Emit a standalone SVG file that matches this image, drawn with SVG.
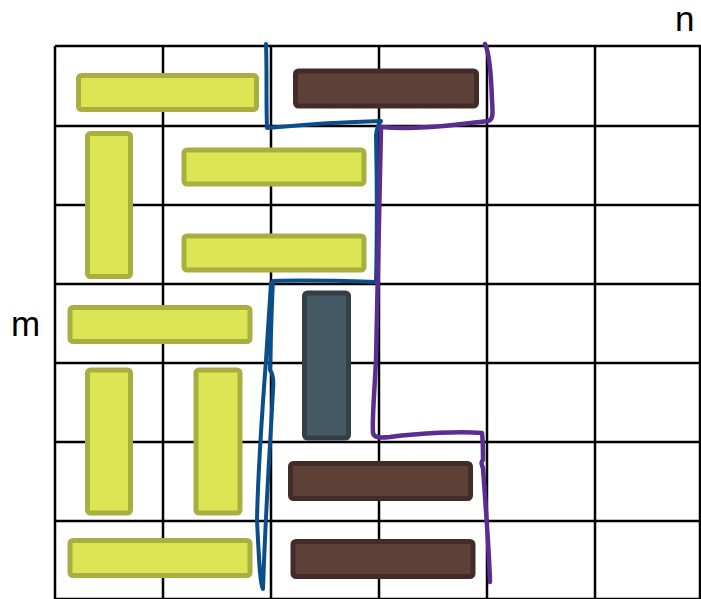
<svg xmlns="http://www.w3.org/2000/svg" width="701" height="599" viewBox="0 0 701 599">
<style>
.grid{stroke:#000;stroke-width:2.5;fill:none}
.y{fill:#DCE655;stroke:#A8AE40;stroke-width:5}
.b{fill:#5D4037;stroke:#432C27;stroke-width:5}
.s{fill:#455A64;stroke:#333F45;stroke-width:5}
.lbl{font-family:"Liberation Sans",Arial,sans-serif;font-size:35px;fill:#000}
.blue{fill:none;stroke:#0B4F8A;stroke-width:4;stroke-linejoin:round;stroke-linecap:round}
.purple{fill:none;stroke:#5B2D90;stroke-width:4.5;stroke-linejoin:round;stroke-linecap:round}
</style>
<rect width="701" height="599" fill="#fff"/>
<g id="grid" class="grid">
<path d="M55,46V599M163,46V599M271,46V599M379,46V599M487,46V599M595,46V599M700,46V599"/>
<path d="M55,46H701M55,126H701M55,205H701M55,284H701M55,363H701M55,442H701M55,521H701M55,599H701"/>
</g>
<g id="label-n"><text class="lbl" x="675" y="31">n</text></g>
<g id="label-m"><text class="lbl" x="11" y="336">m</text></g>
<g id="r1"><rect class="y" x="78.5" y="75.5" width="178" height="34" rx="3"/></g>
<g id="r2"><rect class="b" x="295.5" y="71" width="181" height="35" rx="3"/></g>
<g id="r3"><rect class="y" x="87.5" y="133.5" width="43" height="143" rx="3"/></g>
<g id="r4"><rect class="y" x="184" y="150" width="180" height="34" rx="3"/></g>
<g id="r5"><rect class="y" x="184" y="236" width="180" height="34" rx="3"/></g>
<g id="r6"><rect class="y" x="70" y="307.5" width="180" height="34" rx="3"/></g>
<g id="r7"><rect class="s" x="304.5" y="293" width="44" height="145" rx="3"/></g>
<g id="r8"><rect class="y" x="87.5" y="370" width="43" height="143" rx="3"/></g>
<g id="r9"><rect class="y" x="196" y="370" width="44" height="143" rx="3"/></g>
<g id="r10"><rect class="b" x="290.5" y="463.5" width="180" height="35" rx="3"/></g>
<g id="r11"><rect class="b" x="293" y="541.5" width="180" height="35" rx="3"/></g>
<g id="r12"><rect class="y" x="70" y="540.5" width="180" height="35" rx="3"/></g>
<g id="connectors">
<path class="blue" d="M266,44 C267,70 266,100 267,128 C300,125 340,122 381,121 C378,124 377,128 376,135 C377,180 377,240 376,282 C345,281 300,280 273,281 C272,300 271,330 270,370 C273,374 274,380 273,390 C270,450 266,500 263,589 C260,585 259,560 257,520 C258,470 263,400 266,360 C268,330 270,300 271,283"/>
<path class="purple" d="M485,44 C488,50 491,70 492,100 C493,115 493,120 488,121 C450,125 420,130 381,127 C379,200 378,300 376,360 C374,400 372,420 373,433 C374,438 380,438 390,437 C420,433 460,431 482,433 C483,440 483,450 483,460 C480,462 482,465 483,468 C486,510 489,550 490,582"/>
</g>
</svg>
